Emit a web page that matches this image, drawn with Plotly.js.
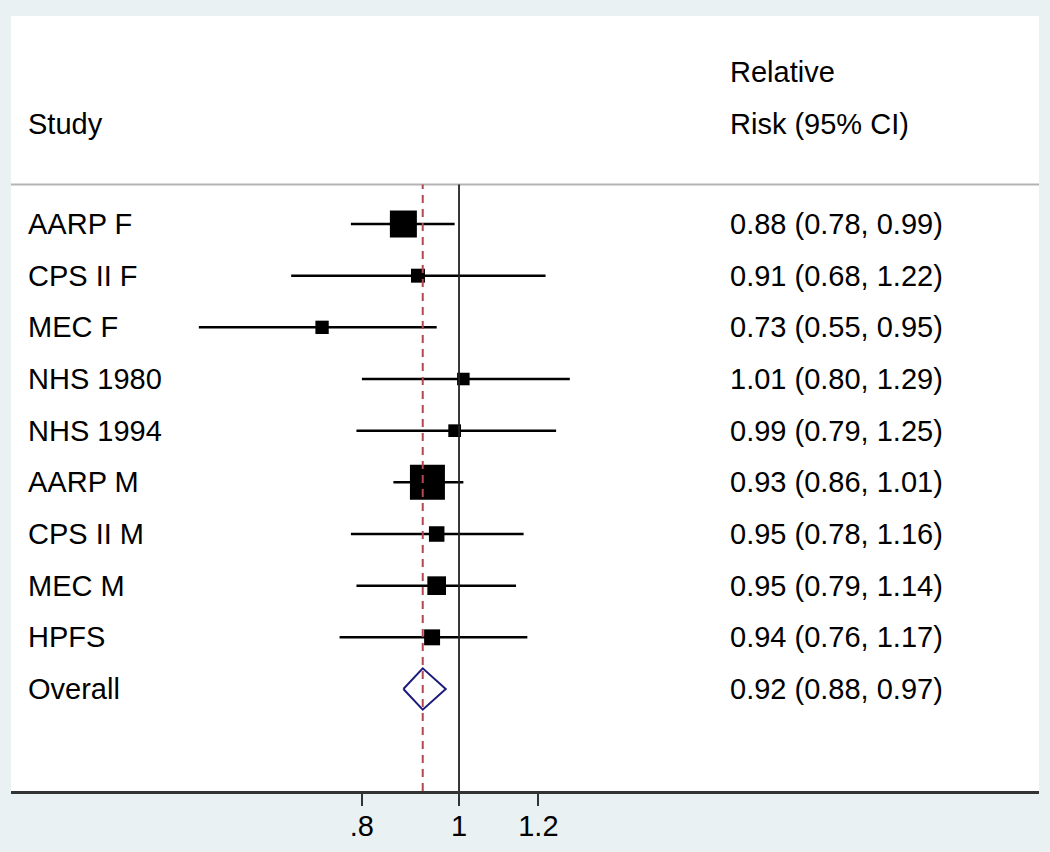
<!DOCTYPE html>
<html>
<head>
<meta charset="utf-8">
<script src="https://cdn.plot.ly/plotly-3.0.1.min.js"></script>
<style>html,body{margin:0;padding:0;background:#eaf1f3;}#chart{width:1050px;height:852px;}</style>
</head>
<body>
<div id="chart"></div>
<script>
// ---- data ----
const studies = ['AARP F', 'CPS II F', 'MEC F', 'NHS 1980', 'NHS 1994', 'AARP M', 'CPS II M', 'MEC M', 'HPFS'];
const rr      = [0.88, 0.91, 0.73, 1.01, 0.99, 0.93, 0.95, 0.95, 0.94];
const ciLow   = [0.78, 0.68, 0.55, 0.80, 0.79, 0.86, 0.78, 0.79, 0.76];
const ciHigh  = [0.99, 1.22, 0.95, 1.29, 1.25, 1.01, 1.16, 1.14, 1.17];
const weights = [20.9, 5.6, 5.1, 4.5, 4.6, 35.1, 6.9, 10.0, 7.3];   // % weight (box area)
const overallLabel = 'Overall';
const overallRR   = 0.92;
const overallLow  = 0.88;
const overallHigh = 0.97;
const tickVals  = [0.8, 1, 1.2];
const tickText  = ['.8', '1', '1.2'];
const headerStudy = 'Study';
const headerRR = ['Relative', 'Risk (95% CI)'];

// ---- build ----
const FONT = 'Liberation Sans, Arial, Helvetica, sans-serif';
const rows = studies.map((_, i) => i);
const overallRow = studies.length;

const ciX = [], ciY = [];
rows.forEach(i => { ciX.push(ciLow[i], ciHigh[i], null); ciY.push(i, i, null); });

const boxScale = 35 / Math.sqrt(Math.max(...weights));
const boxSizes = weights.map(w => boxScale * Math.sqrt(w));

const fmt = v => v.toFixed(2);

const traces = [
  { type: 'scatter', mode: 'lines', x: ciX, y: ciY,
    line: { color: '#000', width: 2.5 }, hoverinfo: 'skip', showlegend: false },
  { type: 'scatter', mode: 'markers', x: rr, y: rows,
    marker: { symbol: 'square', size: boxSizes, color: '#000', opacity: 1, line: { width: 0 } },
    showlegend: false },
  { type: 'scatter', mode: 'lines',
    x: [overallLow, overallRR, overallHigh, overallRR, overallLow],
    y: [overallRow, overallRow - 0.4, overallRow, overallRow + 0.4, overallRow],
    line: { color: '#1c1c7c', width: 2 }, showlegend: false }
];

const sepY = 0.7826;
const annotations = [];
const labelX = 0.0146, valX = 0.6975;
const tfont = { family: FONT, size: 29, color: '#000' };
studies.concat([overallLabel]).forEach((s, i) => {
  annotations.push({ xref: 'paper', yref: 'y', x: labelX, y: i, text: s, showarrow: false,
    xanchor: 'left', yanchor: 'middle', font: tfont });
});
const allRR = rr.concat([overallRR]), allLo = ciLow.concat([overallLow]), allHi = ciHigh.concat([overallHigh]);
allRR.forEach((v, i) => {
  annotations.push({ xref: 'paper', yref: 'y', x: valX, y: i,
    text: fmt(v) + ' (' + fmt(allLo[i]) + ', ' + fmt(allHi[i]) + ')', showarrow: false,
    xanchor: 'left', yanchor: 'middle', font: tfont });
});
annotations.push({ xref: 'paper', yref: 'paper', x: labelX, y: 0.8606, text: headerStudy, showarrow: false,
  xanchor: 'left', yanchor: 'middle', font: tfont });
annotations.push({ xref: 'paper', yref: 'paper', x: valX, y: 0.9277, text: headerRR[0], showarrow: false,
  xanchor: 'left', yanchor: 'middle', font: tfont });
annotations.push({ xref: 'paper', yref: 'paper', x: valX, y: 0.8606, text: headerRR[1], showarrow: false,
  xanchor: 'left', yanchor: 'middle', font: tfont });

const shapes = [
  { type: 'line', xref: 'paper', yref: 'paper', x0: 0, x1: 1, y0: sepY, y1: sepY,
    line: { color: '#b4b4b4', width: 2 } },
  { type: 'line', xref: 'x', yref: 'paper', x0: 1, x1: 1, y0: 0, y1: sepY,
    line: { color: '#222', width: 1.8 } },
  { type: 'line', xref: 'x', yref: 'paper', x0: overallRR, x1: overallRR, y0: 0, y1: sepY,
    line: { color: '#b5474f', width: 2, dash: '8px,6px' } }
];

const layout = {
  width: 1050, height: 852,
  margin: { l: 11, r: 11, t: 16, b: 61, pad: 0 },
  paper_bgcolor: '#eaf1f3', plot_bgcolor: '#ffffff',
  showlegend: false,
  xaxis: {
    type: 'log', range: [-0.4471, 0.5788],
    tickvals: tickVals, ticktext: tickText,
    ticks: 'outside', ticklen: 12, tickwidth: 2, tickcolor: '#333',
    showline: true, linecolor: '#333', linewidth: 2.5,
    showgrid: false, zeroline: false,
    ticklabelstandoff: -4,
    tickfont: { family: FONT, size: 29, color: '#000' },
    fixedrange: true
  },
  yaxis: {
    range: [10.974, -4.026], visible: false, showgrid: false, zeroline: false, fixedrange: true
  },
  shapes: shapes,
  annotations: annotations
};

Plotly.newPlot('chart', traces, layout, { staticPlot: true, displayModeBar: false });
</script>
</body>
</html>
